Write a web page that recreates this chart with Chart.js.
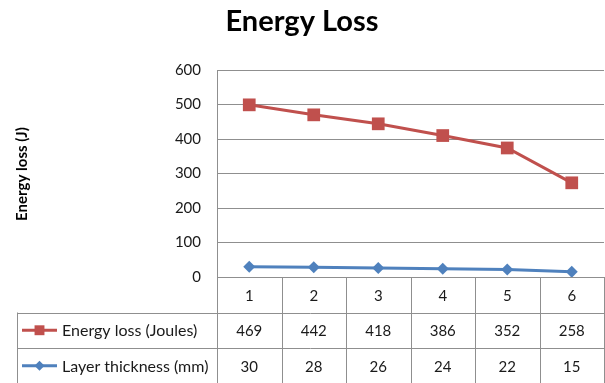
<!DOCTYPE html>
<html>
<head>
<meta charset="utf-8">
<script src="https://cdn.jsdelivr.net/npm/chart.js@4/dist/chart.umd.min.js"></script>
<style>
  body { margin: 0; background: #fff; }
  canvas { display: block; }
</style>
</head>
<body>
<canvas id="lossChart" width="605" height="383"></canvas>
<script>
// data
const categories = ['1', '2', '3', '4', '5', '6'];
const energyLoss = [469, 442, 418, 386, 352, 258];
const layerThickness = [30, 28, 26, 24, 22, 15];
const seriesNames = ['Energy loss (Joules)', 'Layer thickness (mm)'];
const chartTitle = 'Energy Loss';
const yAxisTitle = 'Energy loss (J)';

const RED = '#C0504D';
const BLUE = '#4F81BD';
const GRID = '#8f8f8f';
const FONT = 'Lato, "Open Sans", sans-serif';

// draws the data table under the plot, lined up with the x scale
const dataTablePlugin = {
    id: 'dataTable',
    afterDraw(chart) {
        const ctx = chart.ctx;
        const area = chart.chartArea;
        const xs = chart.scales.x;
        const step = xs.getPixelForValue(1) - xs.getPixelForValue(0);
        const tableLeft = 17;
        const rowH = 35.5;
        const rows = [area.bottom, area.bottom + rowH, area.bottom + rowH * 2, area.bottom + rowH * 3];

        ctx.save();
        ctx.strokeStyle = GRID;
        ctx.lineWidth = 1;

        // horizontal lines
        ctx.beginPath();
        ctx.moveTo(tableLeft, Math.round(rows[1]) + 0.5);
        ctx.lineTo(area.right, Math.round(rows[1]) + 0.5);
        ctx.moveTo(tableLeft, Math.round(rows[2]) + 0.5);
        ctx.lineTo(area.right, Math.round(rows[2]) + 0.5);
        // vertical lines
        ctx.moveTo(tableLeft + 0.5, rows[1]);
        ctx.lineTo(tableLeft + 0.5, rows[3]);
        for (let i = 0; i <= categories.length; i++) {
            const x = Math.round(xs.getPixelForValue(0) - step / 2 + i * step) + 0.5;
            ctx.moveTo(x, rows[0]);
            ctx.lineTo(x, rows[3]);
        }
        ctx.stroke();

        // texts
        ctx.fillStyle = '#1a1a1a';
        ctx.font = '15px ' + FONT;
        ctx.textAlign = 'center';
        ctx.textBaseline = 'middle';
        categories.forEach(function (c, i) {
            const x = xs.getPixelForValue(i);
            ctx.fillText(c, x, rows[0] + rowH / 2 + 1);
            ctx.fillText(String(energyLoss[i]), x, rows[1] + rowH / 2 + 1);
            ctx.fillText(String(layerThickness[i]), x, rows[2] + rowH / 2 + 1);
        });

        // legend keys
        const keys = [
            { name: seriesNames[0], color: RED, style: 'rect', r: 7 },
            { name: seriesNames[1], color: BLUE, style: 'rectRot', r: 5 }
        ];
        ctx.font = '16px ' + FONT;
        keys.forEach(function (k, i) {
            const y = rows[i + 1] + rowH / 2;
            ctx.strokeStyle = k.color;
            ctx.lineWidth = 3;
            ctx.beginPath();
            ctx.moveTo(22, y);
            ctx.lineTo(57, y);
            ctx.stroke();
            ctx.fillStyle = k.color;
            Chart.helpers.drawPoint(ctx, { pointStyle: k.style, radius: k.r, borderWidth: 0 }, 39.5, y);
            ctx.fillStyle = '#1a1a1a';
            ctx.textAlign = 'left';
            ctx.fillText(k.name, 62, y + 1);
        });

        // rotated y axis title
        ctx.translate(22, 174);
        ctx.rotate(-Math.PI / 2);
        ctx.font = 'bold 15px ' + FONT;
        ctx.textAlign = 'center';
        ctx.fillStyle = '#000';
        ctx.fillText(yAxisTitle, 0, 0);
        ctx.restore();
    }
};

new Chart(document.getElementById('lossChart'), {
    type: 'line',
    data: {
        labels: categories,
        datasets: [
            {
                label: seriesNames[1],
                data: layerThickness,
                borderColor: BLUE,
                backgroundColor: BLUE,
                borderWidth: 3,
                pointStyle: 'rectRot',
                pointRadius: 6,
                pointBorderWidth: 0,
                tension: 0,
                fill: false
            },
            {
                label: seriesNames[0],
                data: energyLoss,
                borderColor: RED,
                backgroundColor: RED,
                borderWidth: 3,
                pointStyle: 'rect',
                pointRadius: 9,
                pointBorderWidth: 0,
                tension: 0,
                fill: false
            }
        ]
    },
    options: {
        responsive: false,
        animation: false,
        devicePixelRatio: 1,
        layout: { autoPadding: false, padding: { left: 0, right: 1, top: 0, bottom: 106 } },
        plugins: {
            legend: { display: false },
            tooltip: { enabled: false },
            title: {
                display: true,
                text: chartTitle,
                color: '#000',
                font: { family: FONT, size: 29, weight: 'bold' },
                padding: { top: 4, bottom: 31.2 }
            }
        },
        scales: {
            x: {
                display: false,
                offset: true
            },
            y: {
                stacked: true,
                min: 0,
                max: 600,
                afterFit(scale) { scale.width = 217; },
                ticks: {
                    stepSize: 100,
                    padding: 16,
                    color: '#1a1a1a',
                    font: { family: FONT, size: 15 }
                },
                grid: { color: GRID, drawTicks: false },
                border: { color: GRID }
            }
        }
    },
    plugins: [dataTablePlugin]
});
</script>
</body>
</html>
